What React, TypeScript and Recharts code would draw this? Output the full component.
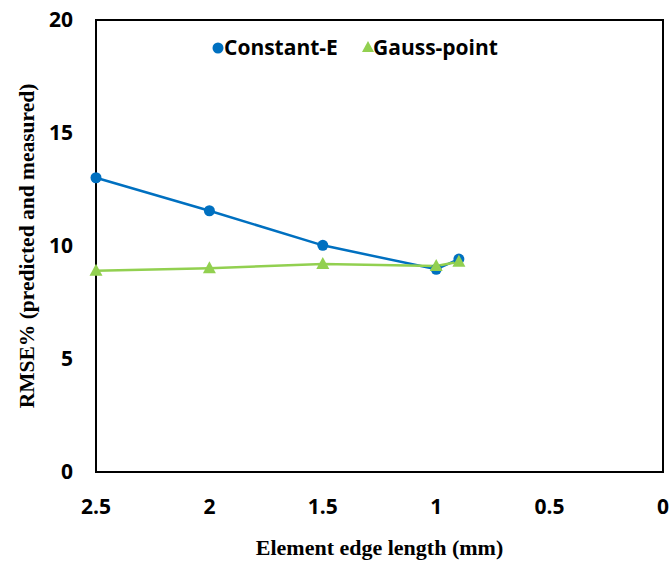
import React from "react";
import {
  LineChart,
  Line,
  XAxis,
  YAxis,
  ReferenceArea,
} from "recharts";

// element edge length (mm) on the x axis, reversed
const edgeLength = [2.5, 2, 1.5, 1, 0.9];
const constantE = [13.02, 11.56, 10.03, 8.97, 9.42];
const gaussPoint = [8.9, 9.02, 9.2, 9.12, 9.3];

const xTicks = [2.5, 2, 1.5, 1, 0.5, 0];
const yTicks = [0, 5, 10, 15, 20];

const BLUE = "#0070C0";
const GREEN = "#92D050";
const TICK_FONT = "'Open Sans', sans-serif";
const TITLE_FONT = "'Liberation Serif', 'Times New Roman', serif";

const data = edgeLength.map((x, i) => ({
  x,
  constE: constantE[i],
  gauss: gaussPoint[i],
}));

const Triangle = (props: any) => {
  const { cx, cy } = props;
  if (cx == null || cy == null) return null;
  return (
    <polygon
      key={`tri-${cx}`}
      points={`${cx},${cy - 7} ${cx - 6.5},${cy + 5} ${cx + 6.5},${cy + 5}`}
      fill={GREEN}
    />
  );
};

// legend sits inside the plot, so keep it out of the chart layout
const LegendBox = () => (
  <svg
    width={320}
    height={34}
    style={{ position: "absolute", left: 212, top: 31, overflow: "visible" }}
  >
    <circle cx={6} cy={17} r={5.5} fill={BLUE} />
    <text x={12} y={24} fontFamily={TICK_FONT} fontWeight={700} fontSize={21} fill="#000">
      Constant-E
    </text>
    <polygon points="156,10 150,21 162,21" fill={GREEN} />
    <text x={161} y={24} fontFamily={TICK_FONT} fontWeight={700} fontSize={21} fill="#000">
      Gauss-point
    </text>
  </svg>
);

export default function App() {
  return (
    <div style={{ position: "absolute", left: 0, top: 0, width: 670, height: 561, background: "#fff" }}>
      <LineChart
        width={670}
        height={561}
        data={data}
        margin={{ top: 20, right: 7, bottom: 0, left: 0 }}
      >
        <XAxis
          dataKey="x"
          type="number"
          domain={[0, 2.5]}
          reversed
          ticks={xTicks}
          axisLine={false}
          tickLine={false}
          tickSize={0}
          tickMargin={27}
          height={89}
          tick={{ fill: "#000", fontSize: 21, fontWeight: 700, fontFamily: TICK_FONT }}
          label={{
            value: "Element edge length (mm)",
            position: "insideBottom",
            offset: 6,
            fill: "#000",
            fontSize: 22,
            fontWeight: 700,
            fontFamily: TITLE_FONT,
          }}
        />
        <YAxis
          type="number"
          domain={[0, 20]}
          ticks={yTicks}
          axisLine={false}
          tickLine={false}
          tickSize={0}
          tickMargin={23}
          width={96}
          tick={{ fill: "#000", fontSize: 21, fontWeight: 700, fontFamily: TICK_FONT }}
          label={{
            value: "RMSE% (predicted and measured)",
            angle: -90,
            position: "insideLeft",
            offset: 26,
            style: { textAnchor: "middle" },
            fill: "#000",
            fontSize: 21.5,
            fontWeight: 700,
            fontFamily: TITLE_FONT,
          }}
        />
        <ReferenceArea
          x1={2.5}
          x2={0}
          y1={0}
          y2={20}
          stroke="#000"
          strokeWidth={2}
          fill="none"
          fillOpacity={0}
        />
        <Line
          dataKey="constE"
          stroke={BLUE}
          strokeWidth={2.5}
          dot={{ r: 5.5, fill: BLUE, stroke: BLUE, strokeWidth: 0 }}
          activeDot={false}
          isAnimationActive={false}
        />
        <Line
          dataKey="gauss"
          stroke={GREEN}
          strokeWidth={2.5}
          dot={Triangle}
          activeDot={false}
          isAnimationActive={false}
        />
      </LineChart>
      <LegendBox />
    </div>
  );
}
